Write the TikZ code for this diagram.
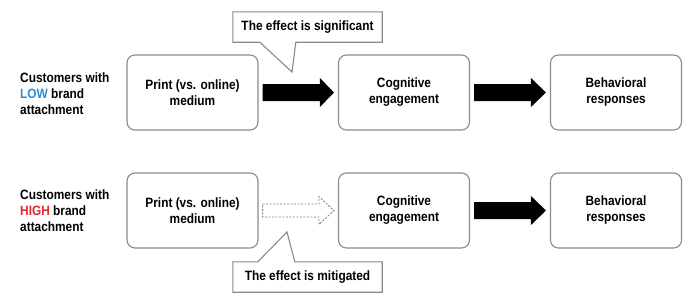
\documentclass[tikz,border=0pt]{standalone}
\usepackage{fontspec}
\setmainfont[FakeStretch=0.88]{Liberation Sans}
\usetikzlibrary{calc}
\definecolor{boxgray}{HTML}{8A8A8A}
\definecolor{lowblue}{HTML}{2A8FD6}
\definecolor{highred}{HTML}{E2262E}
\newcommand{\fatarrow}[6]{%
  \path[#6] ($(#1.east)+(4,-#3)$) -- ($(#2.west)+(-4-#5,-#3)$) -- ($(#2.west)+(-4-#5,-#4)$)
    -- ($(#2.west)+(-4,0)$) -- ($(#2.west)+(-4-#5,#4)$) -- ($(#2.west)+(-4-#5,#3)$)
    -- ($(#1.east)+(4,#3)$) -- cycle;}
\begin{document}
\begin{tikzpicture}[x=1pt,y=-1pt,
  txt/.style={font=\bfseries\fontsize{13.5}{16}\selectfont},
  stage/.style={txt, draw=boxgray, line width=1.1pt, rounded corners=8pt,
    minimum width=131pt, minimum height=75pt, align=center, inner sep=0pt},
  lbl/.style={txt, align=left, anchor=west, inner sep=0pt},
  callt/.style={txt, minimum width=149pt, minimum height=30pt, inner sep=0pt},
  callline/.style={draw=boxgray, line width=1.1pt, line join=miter},
  solidarrow/.style={fill=black},
  ghostarrow/.style={draw=gray, line width=0.9pt, dash pattern=on 2pt off 1.5pt}]
\useasboundingbox (0,0) rectangle (700,300);

% top row
\node[lbl] (l1) at (20,94) {Customers with\\\textcolor{lowblue}{LOW} brand\\attachment};
\node[stage] (p1) at (192.5,92.5) {Print~(vs. online)\\medium};
\node[stage] (c1) at (404,92.5) {Cognitive\\engagement};
\node[stage] (b1) at (616,92.5) {Behavioral\\responses};
\fatarrow{p1}{c1}{8.5}{14.5}{14}{solidarrow}
\fatarrow{c1}{b1}{8.5}{14.5}{15}{solidarrow}

\node[callt] (s1) at (307.5,27) {The effect is significant};
\coordinate (tip1) at (292,72);
\draw[callline] (s1.north west) -- (s1.north east) -- (s1.south east)
  -- ($(s1.south west)+(63,0)$) -- (tip1) -- ($(s1.south west)+(27,0)$)
  -- (s1.south west) -- cycle;

% bottom row
\node[lbl] (l2) at (20,211) {Customers with\\\textcolor{highred}{HIGH} brand\\attachment};
\node[stage] (p2) at (192.5,210.5) {Print~(vs. online)\\medium};
\node[stage] (c2) at (404,210.5) {Cognitive\\engagement};
\node[stage] (b2) at (616,210.5) {Behavioral\\responses};
\fatarrow{p2}{c2}{6.5}{14}{15}{ghostarrow}
\fatarrow{c2}{b2}{8.5}{14.5}{15}{solidarrow}

\node[callt] (s2) at (307.5,277) {The effect is mitigated};
\coordinate (tip2) at (287,232);
\draw[callline] (s2.south west) -- (s2.north west) -- ($(s2.north west)+(25,0)$)
  -- (tip2) -- ($(s2.north west)+(62,0)$) -- (s2.north east) -- (s2.south east) -- cycle;
\end{tikzpicture}
\end{document}
